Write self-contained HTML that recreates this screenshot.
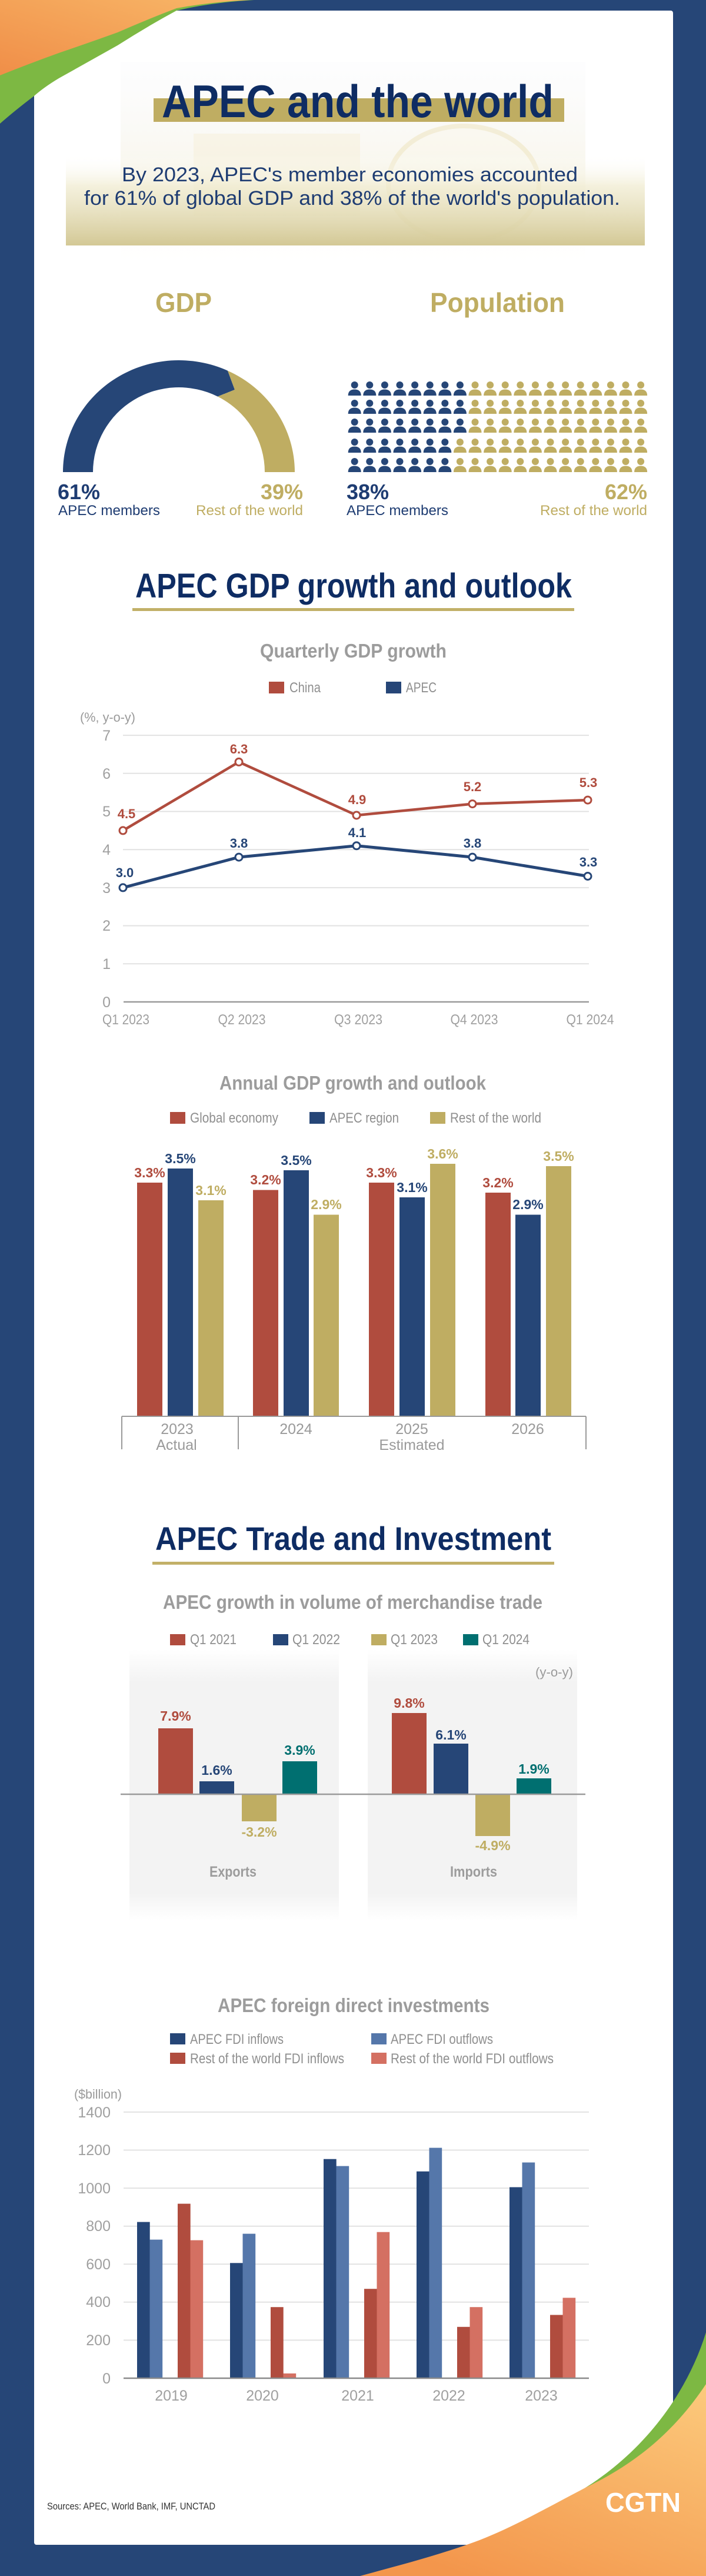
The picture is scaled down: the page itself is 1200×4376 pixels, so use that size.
<!DOCTYPE html>
<html><head><meta charset="utf-8"><style>
html,body{margin:0;padding:0;width:1200px;height:4376px;overflow:hidden;background:#264677}
svg{display:block}
</style></head><body>
<svg width="1200" height="4376" viewBox="0 0 1200 4376" xmlns="http://www.w3.org/2000/svg" font-family="'Liberation Sans', Arial, sans-serif">
<defs>
<linearGradient id="orTL" x1="1" y1="0" x2="0" y2="1"><stop offset="0" stop-color="#f8b768"/><stop offset="1" stop-color="#f08e48"/></linearGradient>
<linearGradient id="orBR" x1="1" y1="0" x2="0.3" y2="1"><stop offset="0" stop-color="#fcca7c"/><stop offset="1" stop-color="#f3964c"/></linearGradient>
<linearGradient id="box" x1="0" y1="0" x2="0" y2="1"><stop offset="0" stop-color="#ffffff" stop-opacity="0"/><stop offset="0.35" stop-color="#efeacd" stop-opacity="0.7"/><stop offset="1" stop-color="#d3c895"/></linearGradient>
<linearGradient id="bgimg" x1="0" y1="0" x2="0" y2="1"><stop offset="0" stop-color="#f6f7fa" stop-opacity="0.2"/><stop offset="0.5" stop-color="#f6f3e6" stop-opacity="0.7"/><stop offset="1" stop-color="#ffffff" stop-opacity="0"/></linearGradient>
<linearGradient id="panel" x1="0" y1="0" x2="0" y2="1"><stop offset="0" stop-color="#ffffff"/><stop offset="0.12" stop-color="#f3f3f3"/><stop offset="0.9" stop-color="#f3f3f3"/><stop offset="1" stop-color="#ffffff"/></linearGradient>
<g id="p"><circle cx="11" cy="6" r="6"/><path d="M0,24 C0,16.5 4.5,13.5 11,13.5 C17.5,13.5 22,16.5 22,24 Z"/></g>
<g id="rowA">
<g fill="#264677"><use href="#p" x="0"/><use href="#p" x="25.6"/><use href="#p" x="51.2"/><use href="#p" x="76.8"/><use href="#p" x="102.4"/><use href="#p" x="128"/><use href="#p" x="153.6"/><use href="#p" x="179.2"/></g>
<g fill="#bfad62"><use href="#p" x="204.8"/><use href="#p" x="230.4"/><use href="#p" x="256"/><use href="#p" x="281.6"/><use href="#p" x="307.2"/><use href="#p" x="332.8"/><use href="#p" x="358.4"/><use href="#p" x="384"/><use href="#p" x="409.6"/><use href="#p" x="435.2"/><use href="#p" x="460.8"/><use href="#p" x="486.4"/></g>
</g>
<g id="rowB">
<g fill="#264677"><use href="#p" x="0"/><use href="#p" x="25.6"/><use href="#p" x="51.2"/><use href="#p" x="76.8"/><use href="#p" x="102.4"/><use href="#p" x="128"/><use href="#p" x="153.6"/></g>
<g fill="#bfad62"><use href="#p" x="179.2"/><use href="#p" x="204.8"/><use href="#p" x="230.4"/><use href="#p" x="256"/><use href="#p" x="281.6"/><use href="#p" x="307.2"/><use href="#p" x="332.8"/><use href="#p" x="358.4"/><use href="#p" x="384"/><use href="#p" x="409.6"/><use href="#p" x="435.2"/><use href="#p" x="460.8"/><use href="#p" x="486.4"/></g>
</g>
</defs>

<!-- frame -->
<rect x="0" y="0" width="1200" height="4376" fill="#264677"/>
<rect x="58" y="18" width="1086" height="4305" rx="4" fill="#ffffff"/>

<!-- top-left swoosh -->
<path d="M0,0 L432,0 Q360,4 300,18 Q250,45 200,77 Q150,105 100,133 Q75,148 58,163 Q25,188 0,210 Z" fill="#7db843"/>
<path d="M0,0 L425,0 Q360,3 300,14 Q250,33 200,55 Q150,73 100,90 Q50,108 0,128 Z" fill="url(#orTL)"/>

<!-- header faint imagery -->
<rect x="205" y="105" width="790" height="360" fill="url(#bgimg)"/>
<rect x="329" y="227" width="283" height="140" fill="#f4ecce" opacity="0.35"/>
<ellipse cx="788" cy="312" rx="128" ry="98" fill="#fbf7ea" stroke="#ece0b4" stroke-width="8" opacity="0.45"/>
<rect x="112" y="262" width="984" height="155" fill="url(#box)"/>

<!-- title -->
<rect x="261" y="167" width="698" height="40" fill="#bfad62"/>
<text x="275" y="199" font-size="78" font-weight="bold" fill="#0e2c63" textLength="666" lengthAdjust="spacingAndGlyphs">APEC and the world</text>
<text x="207" y="308" font-size="34" fill="#1e3c72" textLength="775" lengthAdjust="spacingAndGlyphs">By 2023, APEC's member economies accounted</text>
<text x="143" y="348" font-size="34" fill="#1e3c72" textLength="911" lengthAdjust="spacingAndGlyphs">for 61% of global GDP and 38% of the world's population.</text>

<!-- GDP / Population -->
<text x="264" y="530" font-size="46" font-weight="bold" fill="#bfad62" textLength="96" lengthAdjust="spacingAndGlyphs">GDP</text>
<text x="731" y="530" font-size="46" font-weight="bold" fill="#bfad62" textLength="229" lengthAdjust="spacingAndGlyphs">Population</text>

<path d="M107,802 A197,190 0 0 1 387,629.7 L399,662 L370,673.6 A146,144 0 0 0 158,802 Z" fill="#264677"/>
<path d="M387,629.7 A197,190 0 0 1 501,802 L450,802 A146,144 0 0 0 370,673.6 L399,662 Z" fill="#bfad62"/>

<text x="98" y="848" font-size="36" font-weight="bold" fill="#1e3c72">61%</text>
<text x="99" y="875" font-size="24" fill="#1e3c72" textLength="173" lengthAdjust="spacingAndGlyphs">APEC members</text>
<text x="515" y="848" font-size="36" font-weight="bold" fill="#bfad62" text-anchor="end">39%</text>
<text x="333" y="875" font-size="24" fill="#bfad62" textLength="182" lengthAdjust="spacingAndGlyphs">Rest of the world</text>

<use href="#rowA" x="591.7" y="648"/>
<use href="#rowA" x="591.7" y="679"/>
<use href="#rowA" x="591.7" y="711"/>
<use href="#rowB" x="591.7" y="745"/>
<use href="#rowB" x="591.7" y="778"/>

<text x="589" y="848" font-size="36" font-weight="bold" fill="#1e3c72">38%</text>
<text x="589" y="875" font-size="24" fill="#1e3c72" textLength="173" lengthAdjust="spacingAndGlyphs">APEC members</text>
<text x="1100" y="848" font-size="36" font-weight="bold" fill="#bfad62" text-anchor="end">62%</text>
<text x="918" y="875" font-size="24" fill="#bfad62" textLength="182" lengthAdjust="spacingAndGlyphs">Rest of the world</text>

<!-- Section 2 title -->
<text x="230" y="1015" font-size="58" font-weight="bold" fill="#0e2c63" textLength="742" lengthAdjust="spacingAndGlyphs">APEC GDP growth and outlook</text>
<rect x="225" y="1033" width="751" height="5" fill="#c2b068"/>

<!-- Quarterly GDP growth -->
<text x="442" y="1117" font-size="33" font-weight="bold" fill="#9c9c9c" textLength="317" lengthAdjust="spacingAndGlyphs">Quarterly GDP growth</text>
<rect x="457" y="1158" width="26" height="20" fill="#b04c3e"/>
<text x="492" y="1176" font-size="24" fill="#8f8f8f" textLength="53" lengthAdjust="spacingAndGlyphs">China</text>
<rect x="656" y="1158" width="26" height="20" fill="#264677"/>
<text x="690" y="1176" font-size="24" fill="#8f8f8f" textLength="52" lengthAdjust="spacingAndGlyphs">APEC</text>
<text x="136" y="1226" font-size="22" fill="#9a9a9a" textLength="94" lengthAdjust="spacingAndGlyphs">(%, y-o-y)</text>

<g stroke="#e2e2e2" stroke-width="2">
<line x1="209" y1="1249.1" x2="1001" y2="1249.1"/>
<line x1="209" y1="1313.8" x2="1001" y2="1313.8"/>
<line x1="209" y1="1378.5" x2="1001" y2="1378.5"/>
<line x1="209" y1="1443.2" x2="1001" y2="1443.2"/>
<line x1="209" y1="1507.9" x2="1001" y2="1507.9"/>
<line x1="209" y1="1572.6" x2="1001" y2="1572.6"/>
<line x1="209" y1="1637.3" x2="1001" y2="1637.3"/>
</g>
<line x1="210" y1="1702" x2="1001" y2="1702" stroke="#9a9a9a" stroke-width="2.5"/>
<g font-size="25" fill="#a0a0a0" text-anchor="end">
<text x="188" y="1258">7</text><text x="188" y="1323">6</text><text x="188" y="1387">5</text><text x="188" y="1452">4</text><text x="188" y="1517">3</text><text x="188" y="1581">2</text><text x="188" y="1646">1</text><text x="188" y="1711">0</text>
</g>
<g font-size="24" fill="#a0a0a0" text-anchor="middle">
<text x="214" y="1740" textLength="80" lengthAdjust="spacingAndGlyphs">Q1 2023</text>
<text x="411" y="1740" textLength="81" lengthAdjust="spacingAndGlyphs">Q2 2023</text>
<text x="609" y="1740" textLength="82" lengthAdjust="spacingAndGlyphs">Q3 2023</text>
<text x="806" y="1740" textLength="81" lengthAdjust="spacingAndGlyphs">Q4 2023</text>
<text x="1003" y="1740" textLength="81" lengthAdjust="spacingAndGlyphs">Q1 2024</text>
</g>
<polyline points="209,1410.9 406,1294.4 606,1385 803,1365.6 999,1359.1" fill="none" stroke="#b04c3e" stroke-width="4.5" stroke-linejoin="round"/>
<polyline points="209,1507.9 406,1456.1 606,1436.7 803,1456.1 999,1488.5" fill="none" stroke="#264677" stroke-width="5" stroke-linejoin="round"/>
<g fill="#fff" stroke="#b04c3e" stroke-width="3">
<circle cx="209" cy="1410.9" r="6"/><circle cx="406" cy="1294.4" r="6"/><circle cx="606" cy="1385" r="6"/><circle cx="803" cy="1365.6" r="6"/><circle cx="999" cy="1359.1" r="6"/>
</g>
<g fill="#fff" stroke="#264677" stroke-width="3">
<circle cx="209" cy="1507.9" r="6"/><circle cx="406" cy="1456.1" r="6"/><circle cx="606" cy="1436.7" r="6"/><circle cx="803" cy="1456.1" r="6"/><circle cx="999" cy="1488.5" r="6"/>
</g>
<g font-size="22" font-weight="bold" fill="#b04c3e" text-anchor="middle">
<text x="215" y="1390">4.5</text><text x="406" y="1280">6.3</text><text x="607" y="1366">4.9</text><text x="803" y="1344">5.2</text><text x="1000" y="1337">5.3</text>
</g>
<g font-size="22" font-weight="bold" fill="#264677" text-anchor="middle">
<text x="212" y="1490">3.0</text><text x="406" y="1440">3.8</text><text x="607" y="1422">4.1</text><text x="803" y="1440">3.8</text><text x="1000" y="1472">3.3</text>
</g>

<!-- Annual GDP growth -->
<text x="373" y="1851" font-size="33" font-weight="bold" fill="#9c9c9c" textLength="453" lengthAdjust="spacingAndGlyphs">Annual GDP growth and outlook</text>
<rect x="289" y="1889" width="26" height="20" fill="#b04c3e"/>
<text x="323" y="1907" font-size="24" fill="#8f8f8f" textLength="150" lengthAdjust="spacingAndGlyphs">Global economy</text>
<rect x="526" y="1889" width="26" height="20" fill="#264677"/>
<text x="560" y="1907" font-size="24" fill="#8f8f8f" textLength="118" lengthAdjust="spacingAndGlyphs">APEC region</text>
<rect x="731" y="1889" width="26" height="20" fill="#bfad62"/>
<text x="765" y="1907" font-size="24" fill="#8f8f8f" textLength="155" lengthAdjust="spacingAndGlyphs">Rest of the world</text>

<g fill="#b04c3e">
<rect x="233" y="2009" width="43" height="397"/><rect x="430" y="2021.5" width="43" height="384.5"/><rect x="627" y="2009" width="43" height="397"/><rect x="825" y="2026" width="43" height="380"/>
</g>
<g fill="#264677">
<rect x="285" y="1985" width="43" height="421"/><rect x="482" y="1988" width="43" height="418"/><rect x="679" y="2034" width="43" height="372"/><rect x="876" y="2063.5" width="43" height="342.5"/>
</g>
<g fill="#bfad62">
<rect x="337" y="2039" width="43" height="367"/><rect x="533" y="2063.5" width="43" height="342.5"/><rect x="731" y="1977" width="43" height="429"/><rect x="928" y="1981" width="43" height="425"/>
</g>
<g font-size="23" font-weight="bold" text-anchor="middle">
<text x="254.5" y="2000" fill="#b04c3e">3.3%</text><text x="306.5" y="1976" fill="#264677">3.5%</text><text x="358.5" y="2030" fill="#bfad62">3.1%</text>
<text x="451.5" y="2012" fill="#b04c3e">3.2%</text><text x="503.5" y="1979" fill="#264677">3.5%</text><text x="554.5" y="2054" fill="#bfad62">2.9%</text>
<text x="648.5" y="2000" fill="#b04c3e">3.3%</text><text x="700.5" y="2025" fill="#264677">3.1%</text><text x="752.5" y="1968" fill="#bfad62">3.6%</text>
<text x="846.5" y="2017" fill="#b04c3e">3.2%</text><text x="897.5" y="2054" fill="#264677">2.9%</text><text x="949.5" y="1972" fill="#bfad62">3.5%</text>
</g>
<g stroke="#9a9a9a" stroke-width="2">
<line x1="207" y1="2406" x2="996" y2="2406"/>
<line x1="207" y1="2406" x2="207" y2="2462"/>
<line x1="405" y1="2406" x2="405" y2="2462"/>
<line x1="996" y1="2406" x2="996" y2="2462"/>
</g>
<g font-size="25" fill="#9a9a9a" text-anchor="middle">
<text x="301" y="2436">2023</text><text x="503" y="2436">2024</text><text x="700" y="2436">2025</text><text x="897" y="2436">2026</text>
<text x="300" y="2463">Actual</text><text x="700" y="2463">Estimated</text>
</g>

<!-- Section 3 title -->
<text x="264" y="2633" font-size="56" font-weight="bold" fill="#0e2c63" textLength="673" lengthAdjust="spacingAndGlyphs">APEC Trade and Investment</text>
<rect x="259" y="2653" width="683" height="5" fill="#c2b068"/>

<!-- merchandise trade -->
<text x="277" y="2733" font-size="33" font-weight="bold" fill="#9c9c9c" textLength="645" lengthAdjust="spacingAndGlyphs">APEC growth in volume of merchandise trade</text>
<rect x="289" y="2776" width="26" height="19" fill="#b04c3e"/>
<text x="323" y="2793" font-size="24" fill="#8f8f8f" textLength="79" lengthAdjust="spacingAndGlyphs">Q1 2021</text>
<rect x="464" y="2776" width="26" height="19" fill="#264677"/>
<text x="497" y="2793" font-size="24" fill="#8f8f8f" textLength="81" lengthAdjust="spacingAndGlyphs">Q1 2022</text>
<rect x="631" y="2776" width="26" height="19" fill="#bfad62"/>
<text x="664" y="2793" font-size="24" fill="#8f8f8f" textLength="80" lengthAdjust="spacingAndGlyphs">Q1 2023</text>
<rect x="787" y="2776" width="26" height="19" fill="#006f70"/>
<text x="820" y="2793" font-size="24" fill="#8f8f8f" textLength="80" lengthAdjust="spacingAndGlyphs">Q1 2024</text>

<rect x="220" y="2802" width="356" height="460" fill="url(#panel)"/>
<rect x="625" y="2802" width="356" height="460" fill="url(#panel)"/>
<text x="910" y="2848" font-size="22" fill="#9a9a9a" textLength="64" lengthAdjust="spacingAndGlyphs">(y-o-y)</text>

<rect x="269" y="2936" width="59" height="112" fill="#b04c3e"/>
<rect x="339" y="3026" width="59" height="22" fill="#264677"/>
<rect x="411" y="3048" width="59" height="46" fill="#bfad62"/>
<rect x="480" y="2992" width="59" height="56" fill="#006f70"/>
<rect x="666" y="2910" width="59" height="138" fill="#b04c3e"/>
<rect x="737" y="2962" width="59" height="86" fill="#264677"/>
<rect x="808" y="3048" width="59" height="71" fill="#bfad62"/>
<rect x="878" y="3021" width="59" height="27" fill="#006f70"/>
<line x1="205" y1="3048" x2="995" y2="3048" stroke="#9a9a9a" stroke-width="2.5"/>
<g font-size="23" font-weight="bold" text-anchor="middle">
<text x="298.5" y="2923" fill="#b04c3e">7.9%</text>
<text x="368.5" y="3015" fill="#264677">1.6%</text>
<text x="440.5" y="3120" fill="#bfad62">-3.2%</text>
<text x="509.5" y="2981" fill="#006f70">3.9%</text>
<text x="695.5" y="2901" fill="#b04c3e">9.8%</text>
<text x="766.5" y="2955" fill="#264677">6.1%</text>
<text x="837.5" y="3143" fill="#bfad62">-4.9%</text>
<text x="907.5" y="3013" fill="#006f70">1.9%</text>
</g>
<text x="396" y="3188" font-size="25" font-weight="bold" fill="#9c9c9c" text-anchor="middle" textLength="80" lengthAdjust="spacingAndGlyphs">Exports</text>
<text x="805" y="3188" font-size="25" font-weight="bold" fill="#9c9c9c" text-anchor="middle" textLength="80" lengthAdjust="spacingAndGlyphs">Imports</text>

<!-- FDI -->
<text x="370" y="3418" font-size="33" font-weight="bold" fill="#9c9c9c" textLength="462" lengthAdjust="spacingAndGlyphs">APEC foreign direct investments</text>
<rect x="289" y="3454" width="26" height="19" fill="#264677"/>
<text x="323" y="3472" font-size="24" fill="#8f8f8f" textLength="159" lengthAdjust="spacingAndGlyphs">APEC FDI inflows</text>
<rect x="631" y="3454" width="26" height="19" fill="#5577aa"/>
<text x="664" y="3472" font-size="24" fill="#8f8f8f" textLength="174" lengthAdjust="spacingAndGlyphs">APEC FDI outflows</text>
<rect x="289" y="3487" width="26" height="19" fill="#b04c3e"/>
<text x="323" y="3505" font-size="24" fill="#8f8f8f" textLength="262" lengthAdjust="spacingAndGlyphs">Rest of the world FDI inflows</text>
<rect x="631" y="3487" width="26" height="19" fill="#d47062"/>
<text x="664" y="3505" font-size="24" fill="#8f8f8f" textLength="277" lengthAdjust="spacingAndGlyphs">Rest of the world FDI outflows</text>
<text x="126" y="3565" font-size="22" fill="#9a9a9a" textLength="81" lengthAdjust="spacingAndGlyphs">($billion)</text>

<g stroke="#e2e2e2" stroke-width="2">
<line x1="210" y1="3587.9" x2="1001" y2="3587.9"/>
<line x1="210" y1="3652.5" x2="1001" y2="3652.5"/>
<line x1="210" y1="3717.1" x2="1001" y2="3717.1"/>
<line x1="210" y1="3781.7" x2="1001" y2="3781.7"/>
<line x1="210" y1="3846.3" x2="1001" y2="3846.3"/>
<line x1="210" y1="3910.8" x2="1001" y2="3910.8"/>
<line x1="210" y1="3975.4" x2="1001" y2="3975.4"/>
</g>
<g font-size="25" fill="#a0a0a0" text-anchor="end">
<text x="188" y="3597">1400</text><text x="188" y="3661">1200</text><text x="188" y="3726">1000</text><text x="188" y="3790">800</text><text x="188" y="3855">600</text><text x="188" y="3919">400</text><text x="188" y="3984">200</text><text x="188" y="4049">0</text>
</g>
<g fill="#264677">
<rect x="233" y="3774.6" width="21.7" height="265.4"/><rect x="391" y="3844.3" width="21.7" height="195.7"/><rect x="550" y="3667.7" width="21.7" height="372.3"/><rect x="708" y="3688.7" width="21.7" height="351.3"/><rect x="866" y="3715.5" width="21.7" height="324.5"/>
</g>
<g fill="#5577aa">
<rect x="254.5" y="3804.6" width="21.7" height="235.4"/><rect x="412.5" y="3794.6" width="21.7" height="245.4"/><rect x="571.5" y="3679.6" width="21.7" height="360.4"/><rect x="729.5" y="3648.6" width="21.7" height="391.4"/><rect x="887.5" y="3673.5" width="21.7" height="366.5"/>
</g>
<g fill="#b04c3e">
<rect x="302" y="3743.6" width="21.7" height="296.4"/><rect x="460" y="3919.2" width="21.7" height="120.8"/><rect x="619" y="3888.2" width="21.7" height="151.8"/><rect x="777" y="3952.8" width="21.7" height="87.2"/><rect x="935" y="3932.5" width="21.7" height="107.5"/>
</g>
<g fill="#d47062">
<rect x="323.5" y="3805.6" width="21.7" height="234.4"/><rect x="481.5" y="4031.9" width="21.7" height="8.1"/><rect x="640.5" y="3791.7" width="21.7" height="248.3"/><rect x="798.5" y="3919.2" width="21.7" height="120.8"/><rect x="956.5" y="3903.4" width="21.7" height="136.6"/>
</g>
<line x1="210" y1="4040" x2="1001" y2="4040" stroke="#8a8a8a" stroke-width="2.5"/>
<g font-size="25" fill="#a0a0a0" text-anchor="middle">
<text x="291" y="4078">2019</text><text x="446" y="4078">2020</text><text x="608" y="4078">2021</text><text x="763" y="4078">2022</text><text x="920" y="4078">2023</text>
</g>

<!-- bottom-right swoosh -->
<path d="M1200,3962 C1170,4060 1100,4160 995,4226 L1000,4376 L1200,4376 Z" fill="#7db843"/>
<path d="M1200,4050 C1140,4140 1070,4190 995,4226 C930,4260 860,4300 796,4322 C730,4345 670,4360 612,4376 L1200,4376 Z" fill="url(#orBR)"/>

<text x="80" y="4263" font-size="17" fill="#333333" textLength="286" lengthAdjust="spacingAndGlyphs">Sources: APEC, World Bank, IMF, UNCTAD</text>
<text x="1029" y="4267" font-size="46" font-weight="bold" fill="#ffffff" textLength="128" lengthAdjust="spacingAndGlyphs">CGTN</text>
</svg>
</body></html>
